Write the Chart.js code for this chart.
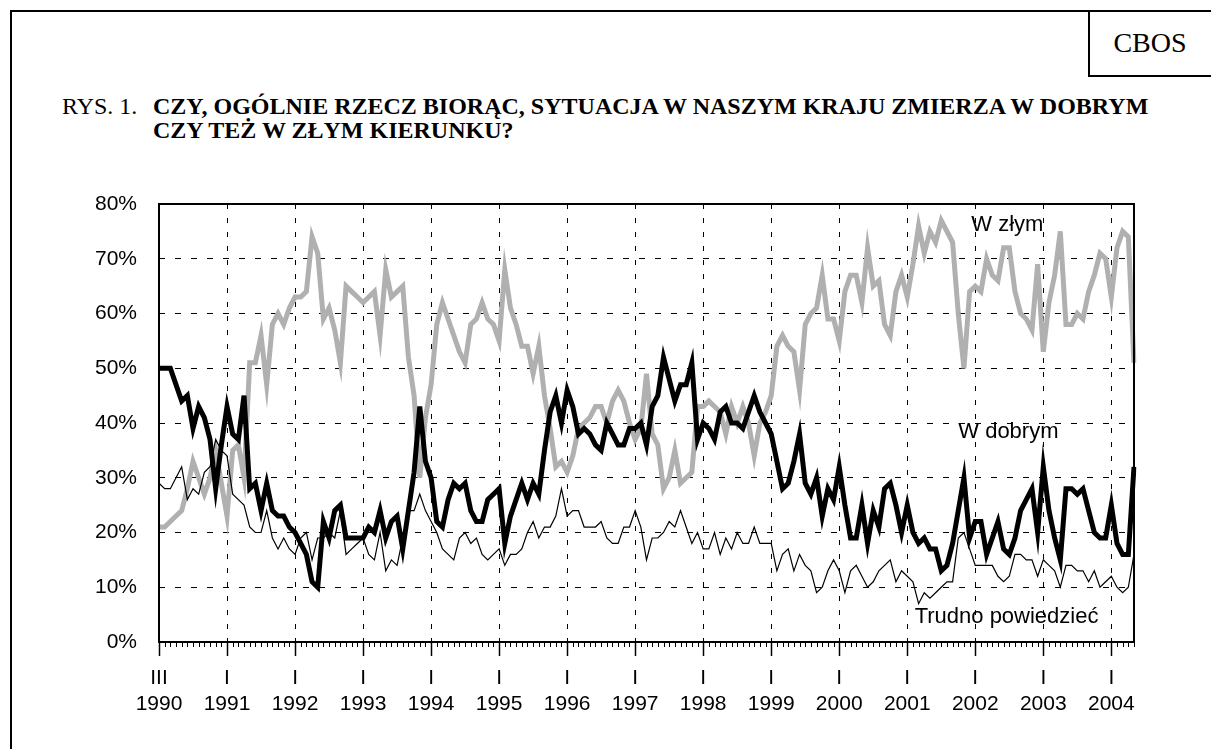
<!DOCTYPE html>
<html lang="pl">
<head>
<meta charset="utf-8">
<script src="https://cdn.jsdelivr.net/npm/chart.js@4.4.1/dist/chart.umd.min.js"></script>
<style>
html,body{margin:0;padding:0;background:#fff;}
#wrap{position:relative;width:1211px;height:749px;overflow:hidden;background:#fff;}
#frame{position:absolute;left:10px;top:10px;width:1400px;height:1000px;border:2px solid #000;box-sizing:border-box;}
#cbos{position:absolute;left:1088px;top:10px;width:200px;height:67px;border-left:2px solid #000;border-bottom:2px solid #000;box-sizing:border-box;}
#cbosText{position:absolute;left:1089px;width:122px;top:10px;height:66px;line-height:66px;text-align:center;font-family:"Liberation Serif","Times New Roman",serif;font-size:28px;}
.t{position:absolute;font-family:"Liberation Serif","Times New Roman",serif;font-size:24px;line-height:24px;white-space:nowrap;color:#000;}
#rys{left:62px;top:94px;}
#q{left:153px;top:94px;font-weight:bold;}
canvas{position:absolute;left:0;top:0;}
</style>
</head>
<body>
<div id="wrap">
  <div id="frame"></div>
  <div id="cbos"></div>
  <div id="cbosText">CBOS</div>
  <div class="t" id="rys">RYS. 1.</div>
  <div class="t" id="q">CZY, OGÓLNIE RZECZ BIORĄC, SYTUACJA W NASZYM KRAJU ZMIERZA W DOBRYM<br>CZY TEŻ W ZŁYM KIERUNKU?</div>
  <canvas id="c" width="1211" height="749"></canvas>
</div>
<script>
// ---- data ----
const yearLabels = ['1990','1991','1992','1993','1994','1995','1996','1997','1998','1999','2000','2001','2002','2003','2004'];
const monthMarks = ['III','I','I','I','I','I','I','I','I','I','I','I','I','I','I'];
const surveysPerYearTick = 12;

const wDobrym = [
50,50,50,47,44,45,39,43,41,37,28,36,
43,38,37,45,28,29,24,29,24,23,23,21,
20,18,16,11,10,22,19,24,25,19,19,19,
19,21,20,24,19,22,23,17,24,31,43,33,
30,22,21,26,29,28,29,24,22,22,26,27,
28,18,23,26,29,26,29,27,35,42,45,40,
46,43,38,39,38,36,35,40,38,36,36,39,
39,40,36,43,45,52,48,44,47,47,51,37,
40,39,37,42,43,40,40,39,42,45,42,40,
38,33,28,29,33,38,29,27,30,23,28,26,
32,25,19,19,25,18,24,21,28,29,25,20,
25,20,18,19,17,17,13,14,18,24,30,19,
22,22,16,19,22,17,16,19,24,26,28,20,
32,24,19,15,28,28,27,28,24,20,19,19,
25,18,16,16,32];

const wZlym = [
21,21,22,23,24,28,33,30,27,30,35,29,
23,35,36,30,51,51,56,47,58,60,58,61,
63,63,64,74,71,59,61,57,51,65,64,63,
62,63,64,56,68,63,64,65,52,45,30,41,
47,58,62,59,56,53,51,58,59,62,59,58,
55,68,61,58,54,54,49,54,45,39,32,33,
31,34,39,40,41,43,43,40,44,46,44,40,
37,39,49,38,36,28,30,35,29,30,31,43,
43,44,43,42,38,43,40,43,40,34,40,42,
45,54,56,54,53,46,58,60,61,67,59,59,
55,64,67,67,62,72,65,66,58,56,64,67,
63,69,76,71,75,73,77,75,73,60,50,64,
65,64,70,67,66,72,72,64,60,59,57,69,
53,62,67,75,58,58,60,59,64,67,71,70,
63,72,75,74,51];

const trudno = [
29,28,28,30,32,26,28,27,31,32,37,35,
34,27,26,25,21,20,20,24,19,17,19,17,
16,19,20,15,19,19,20,19,24,16,17,18,
19,16,15,20,13,15,14,19,24,24,27,24,
22,20,17,16,15,19,20,18,19,16,15,16,
17,14,16,16,17,20,22,19,21,21,23,28,
23,24,24,21,21,21,22,19,18,18,21,21,
24,21,15,19,19,20,22,21,24,21,18,20,
17,17,20,16,19,17,20,18,18,21,18,18,
18,13,16,17,13,16,14,13,9,10,13,15,
13,9,13,14,12,10,11,13,14,15,11,13,
12,11,7,9,8,9,10,11,11,19,20,17,
14,14,14,14,12,11,12,16,16,15,15,12,
15,14,13,10,14,14,13,13,11,13,10,11,
12,10,9,10,16];

const seriesNames = ['W złym','W dobrym','Trudno powiedzieć'];
const yTicks = [0,10,20,30,40,50,60,70,80];

// category labels: a two-line tick label at every year mark, blank elsewhere
const categories = wDobrym.map((_, i) =>
  i % surveysPerYearTick === 0 ? [monthMarks[i / surveysPerYearTick], yearLabels[i / surveysPerYearTick]] : '');

// annotation placement (in data coordinates)
const seriesLabelPos = [
  {text: seriesNames[0], at: 143.3, value: 76.2},
  {text: seriesNames[1], at: 141.0, value: 38.3},
  {text: seriesNames[2], at: 133.3, value: 4.5}
];

const isYear = i => i % surveysPerYearTick === 0;

const decor = {
  id: 'decor',
  afterDraw(chart) {
    const {ctx, chartArea: a, scales: {x, y}} = chart;
    ctx.save();
    ctx.strokeStyle = '#000';
    ctx.lineWidth = 1;
    for (let i = 0; i < categories.length; i++) {
      if (isYear(i)) continue;
      const px = Math.round(x.getPixelForValue(i)) + 0.5;
      ctx.beginPath();
      ctx.moveTo(px, a.bottom);
      ctx.lineTo(px, a.bottom + 5);
      ctx.stroke();
    }
    ctx.lineWidth = 2;
    ctx.strokeRect(a.left, a.top, a.right - a.left, a.bottom - a.top);
    ctx.fillStyle = '#000';
    ctx.font = '22px "Liberation Sans", Arial, sans-serif';
    ctx.textAlign = 'left';
    ctx.textBaseline = 'middle';
    for (const l of seriesLabelPos) {
      ctx.fillText(l.text, x.getPixelForValue(l.at), y.getPixelForValue(l.value));
    }
    ctx.restore();
  }
};

Chart.defaults.font.family = '"Liberation Sans", Arial, sans-serif';
Chart.defaults.color = '#000';

new Chart(document.getElementById('c'), {
  type: 'line',
  data: {
    labels: categories,
    datasets: [
      {label: seriesNames[0], data: wZlym, borderColor: '#b0b0b0', borderWidth: 5, pointRadius: 0, tension: 0, order: 3, borderJoinStyle: 'miter'},
      {label: seriesNames[2], data: trudno, borderColor: '#000', borderWidth: 1.2, pointRadius: 0, tension: 0, order: 2},
      {label: seriesNames[1], data: wDobrym, borderColor: '#000', borderWidth: 5, pointRadius: 0, tension: 0, order: 1, borderJoinStyle: 'miter'}
    ]
  },
  options: {
    responsive: false,
    animation: false,
    events: [],
    layout: {padding: {top: 204, right: 77, left: 0, bottom: 0}},
    plugins: {legend: {display: false}, tooltip: {enabled: false}, title: {display: false}},
    scales: {
      x: {
        type: 'category',
        offset: false,
        grid: {
          display: true,
          drawOnChartArea: true,
          drawTicks: true,
          tickLength: 14,
          lineWidth: 1,
          tickWidth: 1.5,
          color: c => isYear(c.index) && c.index > 0 ? '#000' : 'rgba(0,0,0,0)',
          tickColor: c => isYear(c.index) ? '#000' : 'rgba(0,0,0,0)'
        },
        border: {display: false, dash: [5, 9]},
        ticks: {autoSkip: false, maxRotation: 0, minRotation: 0, padding: 10, font: {size: 21, lineHeight: 1.2}, color: '#000'},
        afterFit(s) { s.height = 107; }
      },
      y: {
        min: 0,
        max: 80,
        afterBuildTicks(s) { s.ticks = yTicks.map(v => ({value: v})); },
        grid: {
          drawTicks: false,
          lineWidth: 1,
          color: c => (c.tick && c.tick.value > 0 && c.tick.value < 80) ? '#000' : 'rgba(0,0,0,0)'
        },
        border: {display: false, dash: [6, 10]},
        ticks: {padding: 22, font: {size: 21}, color: '#000', callback: v => v + '%'},
        afterFit(s) { s.width = 159; }
      }
    }
  },
  plugins: [decor]
});
</script>
</body>
</html>
